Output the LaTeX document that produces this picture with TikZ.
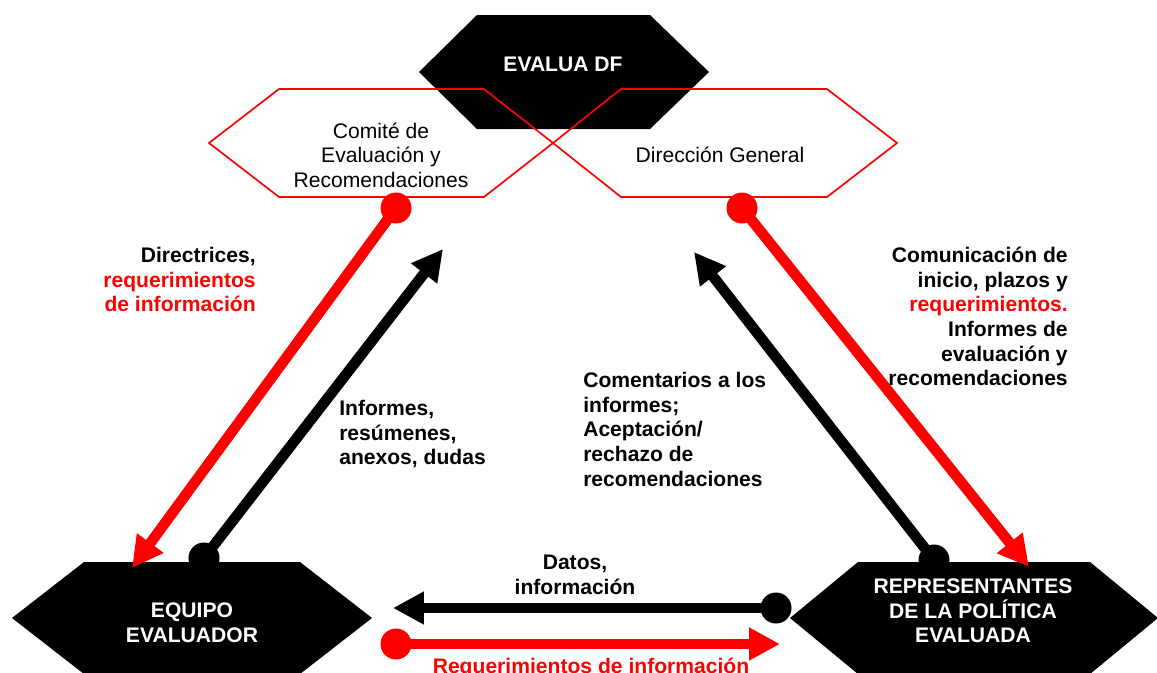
\documentclass[tikz,border=0pt]{standalone}
\usepackage{fontspec}
\setmainfont{Liberation Sans}
\usetikzlibrary{arrows.meta}

\tikzset{
  txt/.style={font=\fontsize{15}{17.5}\selectfont, inner sep=0pt},
  lbl/.style={font=\bfseries\fontsize{15}{17.5}\selectfont, inner sep=0pt},
  hextxt/.style={lbl, text=white, align=center},
}

\begin{document}
\begin{tikzpicture}[x=0.025cm, y=-0.025cm,
    hexred/.style={draw=red, line width=1.2pt},
    dot/.style={circle, fill=#1, minimum size=0.775cm, inner sep=0pt},
    flow/.style={line width=7.5pt, -{Triangle[length=22pt,width=22pt]}}]
  \useasboundingbox (0,0) rectangle (1157,672);

  % hexagons
  \fill (419,72) -- (477,15) -- (650,15) -- (709,72) -- (650,129) -- (477,129) -- cycle;
  \draw[hexred] (209,143) -- (279,89) -- (484,89) -- (553,143) -- (484,197) -- (279,197) -- cycle;
  \draw[hexred] (553,143) -- (621,89) -- (827,89) -- (897,143) -- (827,197) -- (621,197) -- cycle;
  \fill (12,618) -- (84,562) -- (300,562) -- (372,618) -- (300,674) -- (84,674) -- cycle;
  \fill (790,618) -- (858,562) -- (1090,562) -- (1158,618) -- (1090,674) -- (858,674) -- cycle;

  \node[hextxt] (evalua) at (563,64) {EVALUA DF};
  \node[txt, align=center] (comite) at (381,155) {Comité de\\Evaluación y\\Recomendaciones};
  \node[txt] (direccion) at (720,155) {Dirección General};
  \node[hextxt] (equipo) at (192,623) {EQUIPO\\EVALUADOR};
  \node[hextxt] (representantes) at (973,611) {REPRESENTANTES\\DE LA POLÍTICA\\EVALUADA};

  % connectors
  \node[dot=red] (comiteOut) at (396,208) {};
  \coordinate (equipoIn) at (132,568);
  \draw[flow, red] (comiteOut.center) -- (equipoIn);

  \node[dot=black] (equipoOut) at (204,558) {};
  \coordinate (comiteIn) at (443,249);
  \draw[flow] (equipoOut.center) -- (comiteIn);

  \node[dot=red] (direccionOut) at (742,208) {};
  \coordinate (representantesIn) at (1029,567);
  \draw[flow, red] (direccionOut.center) -- (representantesIn);

  \node[dot=black] (representantesOut) at (934,560) {};
  \coordinate (direccionIn) at (694,252);
  \draw[flow] (representantesOut.center) -- (direccionIn);

  \node[dot=black] (datosOut) at (776,608) {};
  \coordinate (datosIn) at (393,608);
  \draw[flow] (datosOut.center) -- (datosIn);

  \node[dot=red] (reqOut) at (396,644) {};
  \coordinate (reqIn) at (780,644);
  \draw[flow, red] (reqOut.center) -- (reqIn);

  % labels
  \node[lbl, anchor=north east, align=right] (directrices) at (256,247)
    {Directrices,\\\textcolor{red}{requerimientos}\\\textcolor{red}{de información}};
  \node[lbl, anchor=north west, align=left] (informes) at (339,400)
    {Informes,\\resúmenes,\\anexos, dudas};
  \node[lbl, anchor=north west, align=left] (comentarios) at (583,372)
    {Comentarios a los\\informes;\\Aceptación/\\rechazo de\\recomendaciones};
  \node[lbl, anchor=north east, align=right] (comunicacion) at (1068,247)
    {Comunicación de\\inicio, plazos y\\\textcolor{red}{requerimientos.}\\Informes de\\evaluación y\\recomendaciones};
  \node[lbl, anchor=north, align=center] (datos) at (575,555) {Datos,\\información};
  \node[lbl, anchor=base, text=red] (requerimientos) at (591,673) {Requerimientos de información};
\end{tikzpicture}
\end{document}
